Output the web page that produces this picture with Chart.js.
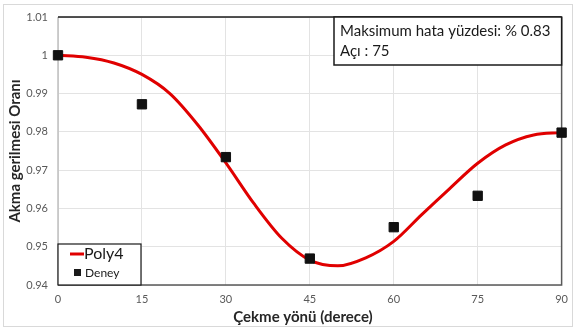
<!DOCTYPE html>
<html>
<head>
<meta charset="utf-8">
<script src="https://cdn.jsdelivr.net/npm/chart.js@4.4.0/dist/chart.umd.min.js"></script>
<style>
  html, body { margin: 0; padding: 0; background: #fff; }
  #wrap { width: 576px; height: 332px; }
</style>
</head>
<body>
<div id="wrap"><canvas id="myChart" width="576" height="332"></canvas></div>
<script>
// deney noktalari
const angles = [0, 15, 30, 45, 60, 75, 90];
const deney = [1.0, 0.9872, 0.9734, 0.9469, 0.9551, 0.9633, 0.9798];

// Poly4 egrisi
const polyX = [0, 5, 10, 15, 20, 25, 30, 35, 40, 45, 50, 55, 60, 65, 70, 75, 80, 85, 90];
const polyY = [1.0, 0.9995, 0.998, 0.995, 0.990, 0.9818, 0.9719, 0.9613, 0.9522, 0.9465, 0.9450, 0.9471, 0.9514, 0.9584, 0.9652, 0.9718, 0.9766, 0.9792, 0.9798];

const xTicks = [0, 15, 30, 45, 60, 75, 90];
const yMin = 0.94, yMax = 1.01, yStep = 0.01;

const boxLines = ["Maksimum hata yüzdesi: % 0.83", "Açı : 75"];
const xTitle = "Çekme yönü (derece)";

const FONT = "Lato, 'Open Sans', sans-serif";

const frame = {
  id: 'frame',
  beforeDraw(chart) {
    const ctx = chart.ctx;
    ctx.save();
    ctx.fillStyle = '#fff';
    ctx.fillRect(0, 0, chart.width, chart.height);
    ctx.strokeStyle = '#d9d9d9';
    ctx.lineWidth = 1;
    ctx.strokeRect(3.5, 4.5, 569, 322);
    ctx.restore();
  },
  beforeDatasetsDraw(chart) {
    const a = chart.chartArea;
    const ctx = chart.ctx;
    ctx.save();
    ctx.lineWidth = 1.5;
    ctx.strokeStyle = '#bfbfbf';
    ctx.beginPath(); ctx.moveTo(a.left, a.top); ctx.lineTo(a.left, a.bottom); ctx.stroke();
    ctx.strokeStyle = '#595959';
    ctx.beginPath(); ctx.moveTo(a.left, a.bottom); ctx.lineTo(a.right, a.bottom); ctx.lineTo(a.right, a.top); ctx.stroke();
    ctx.strokeStyle = '#1a1a1a';
    ctx.beginPath(); ctx.moveTo(a.left, a.top); ctx.lineTo(a.right, a.top); ctx.stroke();
    ctx.restore();
  },
  afterDraw(chart) {
    const a = chart.chartArea;
    const ctx = chart.ctx;
    ctx.save();
    // x ekseni basligi (Excel'deki gibi biraz sola kaymis)
    ctx.fillStyle = '#262626';
    ctx.font = "bold 15px " + FONT;
    ctx.textAlign = 'center';
    ctx.textBaseline = 'middle';
    ctx.fillText(xTitle, 303, 317);

    // bilgi kutusu
    ctx.fillStyle = '#fff';
    ctx.fillRect(334, a.top, a.right - 334, 48);
    ctx.strokeStyle = '#1a1a1a';
    ctx.lineWidth = 1.5;
    ctx.strokeRect(334, a.top, a.right - 334, 48);
    ctx.fillStyle = '#1a1a1a';
    ctx.font = "15px " + FONT;
    ctx.textAlign = 'left';
    ctx.fillText(boxLines[0], 340, a.top + 14);
    ctx.fillText(boxLines[1], 340, a.top + 34);

    // lejant
    const lx = a.left, ly = 244, lw = 83, lh = a.bottom - 244;
    ctx.fillStyle = '#fff';
    ctx.fillRect(lx, ly, lw, lh);
    ctx.strokeStyle = '#1a1a1a';
    ctx.lineWidth = 1.2;
    ctx.strokeRect(lx, ly, lw, lh);
    ctx.strokeStyle = '#e00000';
    ctx.lineWidth = 3;
    ctx.beginPath(); ctx.moveTo(70, 254); ctx.lineTo(84, 254); ctx.stroke();
    ctx.fillStyle = '#1a1a1a';
    ctx.font = "16px " + FONT;
    ctx.fillText("Poly4", 84, 254);
    ctx.fillRect(74, 269, 7, 7);
    ctx.font = "12px " + FONT;
    ctx.fillText("Deney", 85, 273);
    ctx.restore();
  }
};

new Chart(document.getElementById('myChart').getContext('2d'), {
  type: 'scatter',
  data: {
    datasets: [
      {
        label: 'Poly4',
        data: polyX.map((x, i) => ({x: x, y: polyY[i]})),
        showLine: true,
        borderColor: '#e00000',
        borderWidth: 3,
        pointRadius: 0,
        cubicInterpolationMode: 'monotone',
        order: 2
      },
      {
        label: 'Deney',
        data: angles.map((x, i) => ({x: x, y: deney[i]})),
        pointStyle: 'rect',
        pointRadius: 6.6,
        pointBorderWidth: 1,
        backgroundColor: '#111',
        borderColor: '#111',
        clip: false,
        order: 1
      }
    ]
  },
  options: {
    responsive: false,
    animation: false,
    layout: { padding: { left: 0, right: 11, top: 17, bottom: 0 } },
    plugins: { legend: { display: false }, tooltip: { enabled: false } },
    scales: {
      x: {
        type: 'linear',
        min: 0, max: 90,
        afterBuildTicks: s => { s.ticks = xTicks.map(v => ({value: v})); },
        afterFit: s => { s.height = 47; },
        grid: { color: '#e3e3e3', drawTicks: false },
        border: { display: false },
        ticks: { color: '#595959', font: { family: FONT, size: 11 }, padding: 8, maxRotation: 0 },
        title: { display: false }
      },
      y: {
        min: yMin, max: yMax,
        ticks: { stepSize: yStep, color: '#595959', font: { family: FONT, size: 11 }, padding: 10,
                 callback: v => String(Number(v.toFixed(2))) },
        afterFit: s => { s.width = 58; },
        grid: { color: '#e3e3e3', drawTicks: false },
        border: { display: false },
        title: { display: true, text: 'Akma gerilmesi Oranı', color: '#262626',
                 font: { family: FONT, size: 15, weight: 'bold' }, padding: { top: 6, bottom: 4 } }
      }
    }
  },
  plugins: [frame]
});
</script>
</body>
</html>
